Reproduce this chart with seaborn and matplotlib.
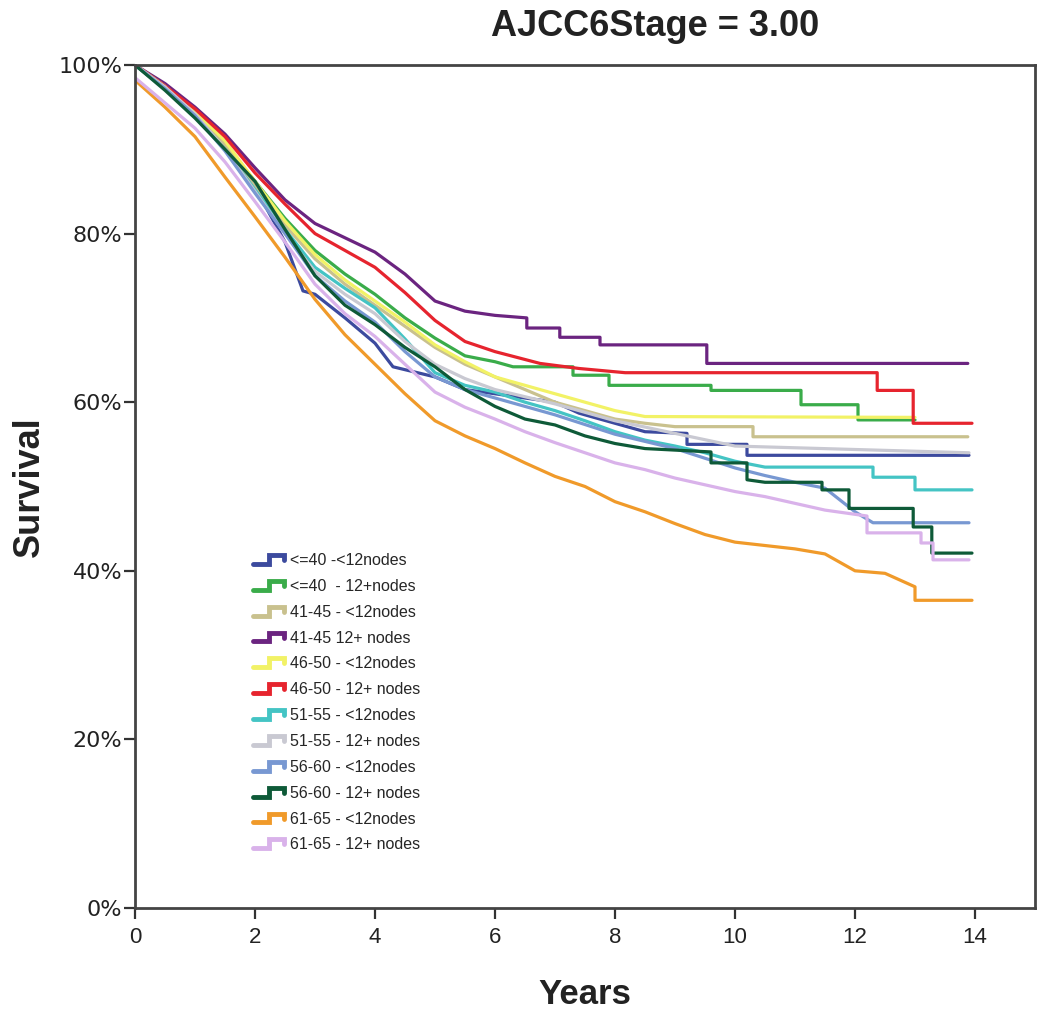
import matplotlib
matplotlib.use("Agg")
import matplotlib.pyplot as plt
import seaborn as sns
import pandas as pd
from matplotlib.lines import Line2D
from matplotlib.legend_handler import HandlerBase
from matplotlib.ticker import FuncFormatter

# ---------------- data (Kaplan-Meier step vertices) ----------------
labels = ["<=40 -<12nodes", "<=40  - 12+nodes", "41-45 - <12nodes", "41-45 12+ nodes",
          "46-50 - <12nodes", "46-50 - 12+ nodes", "51-55 - <12nodes", "51-55 - 12+ nodes",
          "56-60 - <12nodes", "56-60 - 12+ nodes", "61-65 - <12nodes", "61-65 - 12+ nodes"]

colors = ["#3c4a9e", "#3aac4a", "#c9c18e", "#6b2480", "#f2f266", "#e6242e",
          "#44c4c4", "#c9c9d2", "#7898d2", "#0e5a38", "#f09a2a", "#d9b2ea"]

t_le40_lt12 = [0, 0.5, 1, 1.5, 2, 2.5, 2.8, 3, 3.5, 4, 4.3, 5, 5.5, 6, 6.5, 7, 7.4, 8, 8.5, 9.2, 9.2, 10.2, 10.2, 13.9]
s_le40_lt12 = [1.0, 0.975, 0.945, 0.905, 0.855, 0.79, 0.732, 0.728, 0.70, 0.67, 0.642, 0.63, 0.615, 0.61, 0.605, 0.60, 0.587, 0.575, 0.565, 0.563, 0.55, 0.55, 0.537, 0.537]

t_le40_12p = [0, 0.5, 1, 1.5, 2, 2.5, 3, 3.5, 4, 4.5, 5, 5.5, 6, 6.3, 7.3, 7.3, 7.9, 7.9, 9.6, 9.6, 11.1, 11.1, 12.05, 12.05, 13.0]
s_le40_12p = [1.0, 0.972, 0.942, 0.905, 0.862, 0.818, 0.78, 0.752, 0.728, 0.70, 0.676, 0.655, 0.648, 0.642, 0.642, 0.632, 0.632, 0.62, 0.62, 0.614, 0.614, 0.597, 0.597, 0.579, 0.579]

t_41_lt12 = [0, 0.5, 1, 1.5, 2, 2.5, 3, 3.5, 4, 4.5, 5, 5.5, 6, 6.5, 7, 7.5, 8, 8.5, 9, 10.3, 10.3, 13.88]
s_41_lt12 = [1.0, 0.975, 0.944, 0.905, 0.855, 0.81, 0.77, 0.74, 0.715, 0.69, 0.665, 0.645, 0.63, 0.615, 0.60, 0.59, 0.58, 0.575, 0.571, 0.571, 0.559, 0.559]

t_41_12p = [0, 0.5, 1, 1.5, 2, 2.5, 3, 3.5, 4, 4.5, 5, 5.5, 6, 6.53, 6.53, 7.08, 7.08, 7.75, 7.75, 9.53, 9.53, 13.88]
s_41_12p = [1.0, 0.978, 0.95, 0.918, 0.878, 0.84, 0.812, 0.795, 0.778, 0.752, 0.72, 0.708, 0.703, 0.70, 0.688, 0.688, 0.677, 0.677, 0.668, 0.668, 0.646, 0.646]

t_46_lt12 = [0, 0.5, 1, 1.5, 2, 2.5, 3, 3.5, 4, 4.5, 5, 5.5, 6, 6.5, 7, 7.5, 8, 8.5, 13.0]
s_46_lt12 = [1.0, 0.975, 0.945, 0.91, 0.862, 0.815, 0.775, 0.745, 0.72, 0.695, 0.668, 0.648, 0.63, 0.62, 0.61, 0.60, 0.59, 0.583, 0.582]

t_46_12p = [0, 0.5, 1, 1.5, 2, 2.5, 3, 3.5, 4, 4.5, 5, 5.5, 6, 6.75, 7.4, 8.17, 12.37, 12.37, 12.97, 12.97, 13.95]
s_46_12p = [1.0, 0.975, 0.948, 0.915, 0.872, 0.835, 0.80, 0.78, 0.76, 0.73, 0.697, 0.672, 0.66, 0.646, 0.64, 0.635, 0.635, 0.614, 0.614, 0.575, 0.575]

t_51_lt12 = [0, 0.5, 1, 1.5, 2, 2.5, 3, 3.5, 4, 4.5, 5, 5.5, 6, 6.5, 7, 7.5, 8, 8.5, 9, 9.5, 10, 10.5, 12.3, 12.3, 13.0, 13.0, 13.95]
s_51_lt12 = [1.0, 0.972, 0.94, 0.90, 0.852, 0.805, 0.76, 0.735, 0.712, 0.675, 0.635, 0.62, 0.612, 0.60, 0.59, 0.578, 0.565, 0.555, 0.548, 0.54, 0.53, 0.523, 0.523, 0.511, 0.511, 0.496, 0.496]

t_51_12p = [0, 0.5, 1, 1.5, 2, 2.5, 3, 3.5, 4, 4.5, 5, 5.5, 6, 7, 8, 9, 10, 13.9]
s_51_12p = [1.0, 0.974, 0.942, 0.90, 0.85, 0.80, 0.755, 0.728, 0.705, 0.672, 0.645, 0.628, 0.615, 0.598, 0.578, 0.563, 0.548, 0.540]

t_56_lt12 = [0, 0.5, 1, 1.5, 2, 2.5, 3, 3.5, 4, 4.5, 5, 5.5, 6, 7, 8, 9, 10, 10.5, 11, 11.5, 12, 12.3, 13.9]
s_56_lt12 = [1.0, 0.972, 0.94, 0.898, 0.848, 0.80, 0.75, 0.72, 0.695, 0.66, 0.63, 0.615, 0.605, 0.585, 0.562, 0.545, 0.522, 0.513, 0.505, 0.498, 0.47, 0.457, 0.457]

t_56_12p = [0, 0.5, 1, 1.5, 2, 2.5, 3, 3.5, 4, 4.5, 5, 5.5, 6, 6.5, 7, 7.5, 8, 8.5, 9.6, 9.6, 10.2, 10.2, 10.5, 11.45, 11.45, 11.9, 11.9, 12.97, 12.97, 13.28, 13.28, 13.95]
s_56_12p = [1.0, 0.97, 0.937, 0.90, 0.862, 0.805, 0.75, 0.715, 0.692, 0.665, 0.642, 0.615, 0.595, 0.58, 0.573, 0.56, 0.551, 0.545, 0.541, 0.528, 0.528, 0.508, 0.505, 0.505, 0.496, 0.496, 0.474, 0.474, 0.452, 0.452, 0.421, 0.421]

t_61_lt12 = [0, 0.5, 1, 1.5, 2, 2.5, 3, 3.5, 4, 4.5, 5, 5.5, 6, 6.5, 7, 7.5, 8, 8.5, 9, 9.5, 10, 10.5, 11, 11.5, 12, 12.5, 13.0, 13.0, 13.95]
s_61_lt12 = [0.982, 0.95, 0.915, 0.867, 0.82, 0.772, 0.722, 0.68, 0.645, 0.61, 0.578, 0.56, 0.545, 0.528, 0.512, 0.50, 0.482, 0.47, 0.456, 0.443, 0.434, 0.43, 0.426, 0.42, 0.40, 0.397, 0.381, 0.365, 0.365]

t_61_12p = [0, 0.5, 1, 1.5, 2, 2.5, 3, 3.5, 4, 4.5, 5, 5.5, 6, 6.5, 7, 7.5, 8, 8.5, 9, 9.5, 10, 10.5, 11, 11.5, 12.2, 12.2, 13.1, 13.1, 13.3, 13.3, 13.9]
s_61_12p = [0.985, 0.955, 0.925, 0.885, 0.838, 0.79, 0.74, 0.705, 0.678, 0.645, 0.612, 0.594, 0.58, 0.565, 0.552, 0.54, 0.528, 0.52, 0.51, 0.502, 0.494, 0.488, 0.48, 0.472, 0.465, 0.445, 0.445, 0.433, 0.433, 0.413, 0.413]

times = [t_le40_lt12, t_le40_12p, t_41_lt12, t_41_12p, t_46_lt12, t_46_12p,
         t_51_lt12, t_51_12p, t_56_lt12, t_56_12p, t_61_lt12, t_61_12p]
survs = [s_le40_lt12, s_le40_12p, s_41_lt12, s_41_12p, s_46_lt12, s_46_12p,
         s_51_lt12, s_51_12p, s_56_lt12, s_56_12p, s_61_lt12, s_61_12p]

x_ticks = [0, 2, 4, 6, 8, 10, 12, 14]
y_ticks = [0, 0.2, 0.4, 0.6, 0.8, 1.0]

# ---------------- build table ----------------
rows = []
for lab, ts, ss in zip(labels, times, survs):
    for i, (t, s) in enumerate(zip(ts, ss)):
        rows.append({"Years": t, "Survival": s, "group": lab, "order": i})
df = pd.DataFrame(rows)

sns.set_theme(style="white")
plt.rcParams["font.family"] = ["Liberation Sans", "DejaVu Sans"]

fig = plt.figure(figsize=(10.5, 10.16), dpi=100)
ax = fig.add_axes([135 / 1050, 1 - 908 / 1016, 900 / 1050, 843 / 1016])

sns.lineplot(data=df, x="Years", y="Survival", hue="group", hue_order=labels,
             palette=dict(zip(labels, colors)), estimator=None, sort=False,
             units="group", linewidth=2.3, ax=ax, legend=True)

ax.set_xlim(0, 15)
ax.set_ylim(0, 1.0)
ax.set_xticks(x_ticks)
ax.set_yticks(y_ticks)
ax.yaxis.set_major_formatter(FuncFormatter(lambda v, p: f"{v*100:.0f}%"))
for sp in ax.spines.values():
    sp.set_visible(True)
    sp.set_color("#444444")
    sp.set_linewidth(2.0)
ax.tick_params(axis="both", which="major", direction="out", length=8, width=1.6,
               color="#333333", bottom=True, left=True)
ax.tick_params(axis="y", labelcolor="#222222", pad=1)
ax.tick_params(axis="x", labelsize=16, labelcolor="#222222", pad=6)
for lbl in ax.get_yticklabels():
    lbl.set_fontfamily(["DejaVu Sans"])
    lbl.set_fontsize(16)

ax.set_xlabel("Years", fontsize=25, fontweight="bold", color="#222222")
ax.set_ylabel("Survival", fontsize=26, fontweight="bold", color="#222222")
ax.xaxis.set_label_coords(0.5, (908 - 978) / 843)
ax.yaxis.set_label_coords((47 - 135) / 900, 0.5)
fig.text(655 / 1050, 1 - 26 / 1016, "AJCC6Stage = 3.00", fontsize=26, fontweight="bold",
         ha="center", va="center", color="#222222")


class StepHandler(HandlerBase):
    def create_artists(self, legend, orig_handle, xdescent, ydescent, width, height, fontsize, trans):
        x0, y0 = -xdescent, -ydescent
        xs = [x0, x0 + 0.45 * width, x0 + 0.45 * width, x0 + 0.88 * width, x0 + 0.88 * width]
        ys = [y0 + 0.1 * height, y0 + 0.1 * height, y0 + 0.9 * height, y0 + 0.9 * height, y0 + 0.45 * height]
        ln = Line2D(xs, ys, color=orig_handle.get_color(), lw=3.5, solid_joinstyle="miter")
        ln.set_transform(trans)
        return [ln]


handles, labs = ax.get_legend_handles_labels()
ax.legend(handles, labs, handler_map={h: StepHandler() for h in handles},
          loc="upper left", bbox_to_anchor=((253 - 135) / 900, (908 - 553) / 843),
          frameon=False, fontsize=11.5, handlelength=2.2, handletextpad=0.1,
          labelspacing=0.68, borderpad=0, borderaxespad=0)

fig.savefig("out.png", dpi=100)
